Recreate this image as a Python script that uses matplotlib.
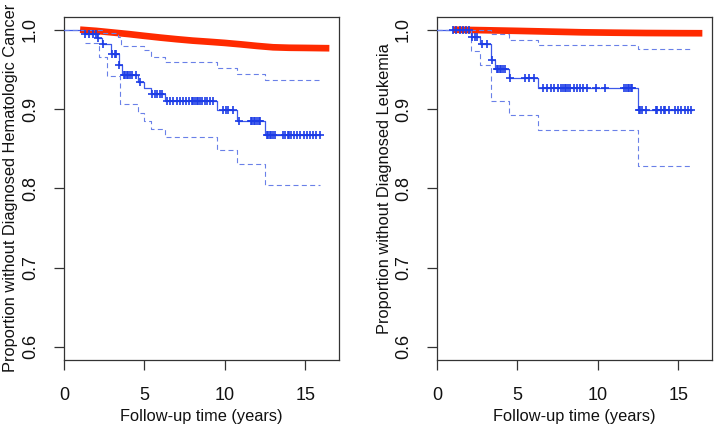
import matplotlib
matplotlib.use("Agg")
import matplotlib.pyplot as plt

plt.rcParams['font.family'] = ['Liberation Sans', 'DejaVu Sans']

# ---- left panel: hematologic cancer ----
hem_ref_t = [1.0, 2.0, 3.0, 4.0, 5.0, 6.0, 7.0, 8.0, 9.0, 10.0, 11.0, 12.0, 13.0, 14.0, 15.0, 16.5]
hem_ref_s = [1.0, 0.9985, 0.9965, 0.9945, 0.9922, 0.990, 0.988, 0.9862, 0.9848, 0.9833,
             0.9815, 0.9795, 0.9778, 0.9772, 0.977, 0.9766]

hem_t = [0, 1.3, 2.05, 2.35, 2.9, 3.4, 3.6, 4.6, 5.0, 5.4, 6.25, 9.5, 10.75, 12.5, 15.9]
hem_s = [1.0, 0.995, 0.989, 0.982, 0.969, 0.9555, 0.9424, 0.934, 0.926, 0.9186, 0.9105,
         0.8985, 0.885, 0.8673, 0.8673]
hem_up_t = [0, 2.4, 3.35, 3.55, 5.0, 5.4, 6.25, 9.5, 10.75, 12.5, 15.9]
hem_up_s = [1.0, 0.996, 0.991, 0.980, 0.975, 0.965, 0.959, 0.952, 0.9445, 0.936, 0.936]
hem_lo_t = [1.3, 2.15, 2.67, 3.46, 4.6, 5.0, 5.4, 6.25, 9.5, 10.75, 12.5, 15.9]
hem_lo_s = [0.983, 0.965, 0.9416, 0.9057, 0.895, 0.8846, 0.8753, 0.8643, 0.848, 0.8306,
            0.8044, 0.8044]
hem_cens = [1.3, 1.55, 1.8, 2.0, 2.1, 2.4, 3.0, 3.15, 3.25, 3.45,
            3.7, 3.8, 3.9, 4.0, 4.1, 4.2, 4.5, 4.7,
            5.5, 5.65, 5.8, 5.95, 6.1,
            6.4, 6.6, 6.8, 7.0, 7.2, 7.4, 7.6, 7.8, 7.95, 8.05, 8.15, 8.25, 8.35,
            8.45, 8.6, 8.75, 8.9, 9.1, 9.25,
            9.9, 10.05, 10.2, 10.5, 10.9,
            11.6, 11.7, 11.8, 11.9, 12.0, 12.1, 12.2,
            12.6, 12.7, 12.8, 12.9, 13.0, 13.1,
            13.6, 13.75, 13.9, 14.0, 14.1, 14.3, 14.5, 14.7, 14.9, 15.1, 15.3,
            15.5, 15.7, 15.9]

# ---- right panel: leukemia ----
leu_ref_t = [1.0, 3.0, 5.0, 7.0, 9.0, 11.0, 13.0, 15.0, 16.5]
leu_ref_s = [1.0, 0.9993, 0.9985, 0.9976, 0.9967, 0.9962, 0.9958, 0.9956, 0.9955]

leu_t = [0, 2.13, 2.65, 3.37, 3.58, 4.5, 6.27, 12.48, 15.84]
leu_s = [1.0, 0.9909, 0.9816, 0.9618, 0.9509, 0.9395, 0.926, 0.899, 0.899]
leu_up_t = [0, 3.37, 4.5, 6.27, 12.48, 15.84]
leu_up_s = [1.0, 0.9947, 0.9876, 0.981, 0.976, 0.976]
leu_lo_t = [0, 2.13, 2.65, 3.37, 4.5, 6.27, 12.48, 15.84]
leu_lo_s = [1.0, 0.9732, 0.955, 0.9095, 0.892, 0.8737, 0.828, 0.828]
leu_cens = [1.0, 1.2, 1.4, 1.6, 1.8, 2.0,
            2.2, 2.35, 2.5, 2.8, 3.1, 3.45,
            3.7, 3.8, 3.9, 4.0, 4.1, 4.2, 4.57,
            5.45, 5.75, 6.05,
            6.6, 6.85, 7.1, 7.3, 7.5, 7.7, 7.85, 7.95, 8.05, 8.15, 8.3, 8.5, 8.7,
            8.9, 9.1, 9.35, 9.9, 10.45,
            11.65, 11.75, 11.85, 11.95, 12.05, 12.15,
            12.55, 12.65, 12.75, 13.0,
            13.6, 13.7, 13.9, 14.1, 14.2, 14.4, 14.8, 15.0, 15.2, 15.4, 15.6, 15.8]

red = '#ff2a00'
blue = '#1c3ce6'
ci_blue = '#6a80e8'

fig = plt.figure(figsize=(7.17, 4.29), dpi=100)
ax1 = fig.add_axes([64 / 717, 1 - 359.5 / 429, 275 / 717, 342.5 / 429])
ax2 = fig.add_axes([437 / 717, 1 - 359.5 / 429, 275 / 717, 342.5 / 429])


def step_at(ts, ss, t):
    v = ss[0]
    for a, b in zip(ts, ss):
        if a <= t:
            v = b
    return v


def panel(ax, ref_t, ref_s, t, s, up_t, up_s, lo_t, lo_s, cens, ylab):
    ax.plot(ref_t, ref_s, color=red, lw=4.8, solid_capstyle='butt', zorder=2)
    ax.step(t, s, where='post', color=blue, lw=0.9, alpha=0.85, zorder=3)
    ax.step(up_t, up_s, where='post', color=ci_blue, lw=0.8, ls=(0, (4.5, 3)), zorder=3)
    ax.step(lo_t, lo_s, where='post', color=ci_blue, lw=0.8, ls=(0, (4.5, 3)), zorder=3)
    cy = [step_at(t, s, c) for c in cens]
    ax.plot(cens, cy, ls='none', marker='+', ms=5.5, mew=1.2, color=blue, zorder=4)

    ax.set_xlim(0, 17.1)
    ax.set_ylim(0.584, 1.016)
    ax.set_xticks([0, 5, 10, 15])
    ax.set_yticks([0.6, 0.7, 0.8, 0.9, 1.0])
    ax.set_yticklabels(['0.6', '0.7', '0.8', '0.9', '1.0'], rotation=90, va='center')
    ax.tick_params(axis='both', direction='out', length=7, width=0.9, color='#333333',
                   labelsize=13, labelcolor='#111111')
    ax.tick_params(axis='x', pad=13)
    ax.tick_params(axis='y', pad=11)
    for sp in ax.spines.values():
        sp.set_color('#333333')
        sp.set_linewidth(0.9)
    ax.set_xlabel('Follow-up time (years)', fontsize=11.8, color='#111111', va='center')
    ax.xaxis.set_label_coords(0.5, -57 / 342.5)
    ax.set_ylabel(ylab, fontsize=11.8, color='#111111', va='center')
    ax.yaxis.set_label_coords(-53 / 275, 0.5)


panel(ax1, hem_ref_t, hem_ref_s, hem_t, hem_s, hem_up_t, hem_up_s, hem_lo_t, hem_lo_s,
      hem_cens, 'Proportion without Diagnosed Hematologic Cancer')
panel(ax2, leu_ref_t, leu_ref_s, leu_t, leu_s, leu_up_t, leu_up_s, leu_lo_t, leu_lo_s,
      leu_cens, 'Proportion without Diagnosed Leukemia')

fig.savefig('out.png', dpi=100)
